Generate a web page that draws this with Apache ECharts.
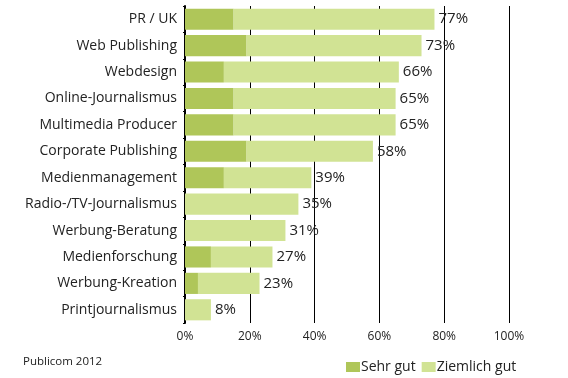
<!DOCTYPE html>
<html>
<head>
<meta charset="utf-8">
<script src="https://cdn.jsdelivr.net/npm/echarts@6/dist/echarts.min.js"></script>
<style>
html,body{margin:0;padding:0;background:#fff;}
#c{width:568px;height:378px;}
</style>
</head>
<body>
<div id="c"></div>
<script>
const categories = ["PR / UK","Web Publishing","Webdesign","Online-Journalismus","Multimedia Producer","Corporate Publishing","Medienmanagement","Radio-/TV-Journalismus","Werbung-Beratung","Medienforschung","Werbung-Kreation","Printjournalismus"];
const sehrGut = [15,19,12,15,15,19,12,0,0,8,4,0];
const ziemlichGut = [62,54,54,50,50,39,27,35,31,19,19,8];
const xTicks = [0,20,40,60,80,100];
const source = "Publicom 2012";

const FONT = "Open Sans";
const chart = echarts.init(document.getElementById('c'));
chart.setOption({
  animation:false,
  backgroundColor:'#fff',
  grid:{left:185,right:59,top:6,bottom:55,containLabel:false},
  legend:{
    left:341,top:355,itemWidth:14,itemHeight:10,itemGap:6,
    icon:'rect',
    textStyle:{fontFamily:FONT,fontSize:14,color:'#222',padding:[0,0,0,-4]},
    data:['Sehr gut','Ziemlich gut']
  },
  xAxis:{
    type:'value',min:xTicks[0],max:xTicks[xTicks.length-1],interval:20,
    axisLine:{show:false},axisTick:{show:false},
    splitLine:{show:true,lineStyle:{color:'#000',width:1}},
    axisLabel:{formatter:v=>v+'%',fontFamily:FONT,fontSize:12,color:'#222',margin:8,showMaxLabel:true}
  },
  yAxis:{
    type:'category',data:categories,inverse:true,
    axisLine:{show:true,lineStyle:{color:'#000',width:2}},
    axisTick:{show:true,length:2,lineStyle:{color:'#000',width:1}},
    axisLabel:{fontFamily:FONT,fontSize:14,color:'#222',margin:8}
  },
  series:[
    {name:'Sehr gut',type:'bar',stack:'a',data:sehrGut,barCategoryGap:'20%',
     itemStyle:{color:'#afc659'}},
    {name:'Ziemlich gut',type:'bar',stack:'a',data:ziemlichGut,
     itemStyle:{color:'#d1e394'},
     label:{show:true,position:'right',distance:4,fontFamily:FONT,fontSize:15,color:'#222',
       formatter:p=>(sehrGut[p.dataIndex]+ziemlichGut[p.dataIndex])+'%'}}
  ],
  graphic:[{type:'text',left:23,top:356,style:{text:source,fontFamily:FONT,fontSize:11.5,fill:'#222'}}]
});
</script>
</body>
</html>
